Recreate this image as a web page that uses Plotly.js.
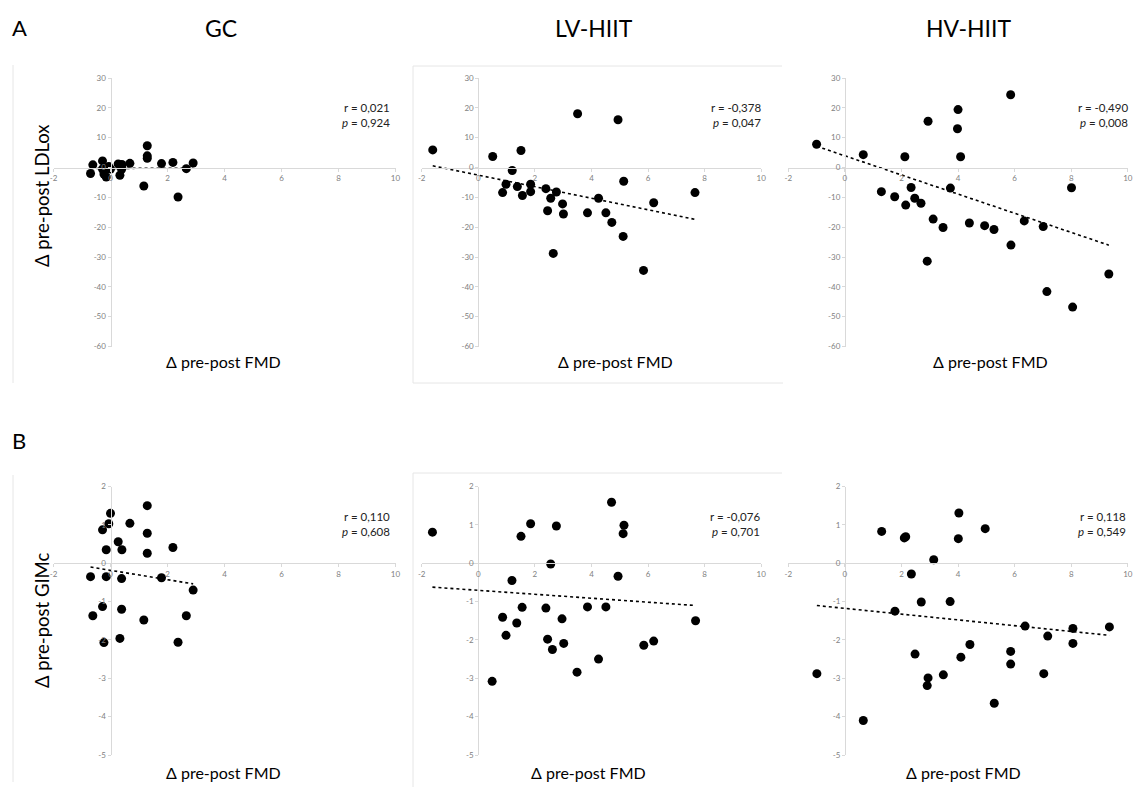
<!DOCTYPE html>
<html>
<head>
<meta charset="utf-8">
<script src="https://cdn.plot.ly/plotly-3.0.1.min.js"></script>
<style>html,body{margin:0;padding:0;background:#fff;}#chart{width:1135px;height:787px;}</style>
</head>
<body>
<div id="chart"></div>
<script>
// ---------- data ----------
const groups = ['GC', 'LV-HIIT', 'HV-HIIT'];
const rowLabels = ['A', 'B'];
const yTitles = ['Δ pre-post LDLox', 'Δ pre-post GIMc'];
const xTitle = 'Δ pre-post FMD';

// Row A: Δ FMD vs Δ LDLox
const fmdA_GC = [-0.7,-0.62,-0.28,-0.28,-0.23,-0.15,-0.15,-0.06,0.0,0.27,0.33,0.39,0.39,0.4,0.68,1.17,1.29,1.29,1.29,1.79,2.19,2.37,2.66,2.9];
const ldlA_GC = [-2.0,0.9,2.2,-0.5,-2.2,-3.2,-0.5,0.3,-0.5,1.2,-2.6,0.6,-0.6,1.0,1.4,-6.2,7.3,3.9,3.1,1.3,1.7,-9.9,-0.4,1.5];

const fmdA_LV = [-1.61,0.51,1.51,1.2,0.98,0.86,1.38,1.56,1.85,1.85,2.39,2.76,2.56,2.45,2.98,3.01,2.65,3.51,3.86,4.25,4.51,4.72,4.94,5.14,5.12,5.84,6.2,7.66];
const ldlA_LV = [5.9,3.7,5.7,-1.0,-5.6,-8.4,-6.4,-9.4,-5.6,-8.1,-7.1,-8.2,-10.3,-14.5,-12.2,-15.6,-28.8,18.0,-15.2,-10.3,-15.2,-18.4,16.0,-4.6,-23.1,-34.5,-11.8,-8.4];

const fmdA_HV = [-1.0,0.65,2.12,2.94,4.0,3.98,4.09,5.86,1.29,1.76,2.15,2.34,2.47,2.69,3.12,3.47,2.91,3.73,4.4,4.94,5.27,5.87,6.34,7.01,8.01,7.14,8.05,9.33];
const ldlA_HV = [7.8,4.3,3.6,15.5,19.4,13.0,3.6,24.4,-8.1,-9.8,-12.6,-6.7,-10.3,-12.0,-17.3,-20.1,-31.4,-6.9,-18.6,-19.5,-20.8,-26.0,-17.9,-19.8,-6.8,-41.6,-46.8,-35.7];

// Row B: Δ FMD vs Δ GIMc
const fmdB_GC = [-0.7,-0.62,-0.28,-0.28,-0.23,-0.15,-0.15,-0.06,0.0,0.27,0.33,0.39,0.39,0.4,0.68,1.17,1.29,1.29,1.29,1.79,2.19,2.37,2.66,2.9];
const gimB_GC = [-0.35,-1.37,0.87,-1.13,-2.07,0.35,-0.35,1.03,1.30,0.56,-1.96,-0.40,-1.2,0.35,1.04,-1.48,1.50,0.78,0.26,-0.38,0.41,-2.06,-1.37,-0.70];

const fmdB_LV = [-1.62,1.51,1.85,2.76,4.71,5.15,5.12,2.56,1.19,4.94,0.86,0.98,1.36,1.55,2.39,2.45,2.62,2.96,3.02,3.49,3.86,4.25,4.51,5.85,6.2,7.68,0.49];
const gimB_LV = [0.81,0.70,1.03,0.97,1.59,0.99,0.77,-0.02,-0.45,-0.34,-1.41,-1.88,-1.56,-1.15,-1.17,-1.98,-2.25,-1.45,-2.09,-2.84,-1.14,-2.50,-1.14,-2.14,-2.03,-1.50,-3.08];

const fmdB_HV = [-0.99,0.65,1.30,2.15,2.10,1.77,2.35,2.48,2.7,2.94,2.91,3.14,3.48,3.72,4.03,4.01,4.1,4.42,4.96,5.28,5.86,5.86,6.37,7.03,7.17,8.06,8.06,9.35];
const gimB_HV = [-2.88,-4.10,0.83,0.69,0.66,-1.25,-0.28,-2.37,-1.01,-2.99,-3.19,0.09,-2.91,-1.0,1.31,0.64,-2.45,-2.12,0.90,-3.65,-2.30,-2.63,-1.64,-2.88,-1.90,-1.70,-2.09,-1.66];

// linear trendlines: [intercept, slope]
const trendA_GC = [-0.3, 0.03];
const trendA_LV = [-2.56, -1.935];
const trendA_HV = [3.92, -3.21];
const trendB_GC = [-0.185, -0.122];
const trendB_LV = [-0.707, -0.0515];
const trendB_HV = [-1.177, -0.0752];

const rValues = ['0,021', '-0,378', '-0,490', '0,110', '-0,076', '0,118'];
const pValues = ['0,924', '0,047', '0,008', '0,608', '0,701', '0,549'];

// tick labels
const xTickVals = [-2, 0, 2, 4, 6, 8, 10];
const yTickValsA = [-60, -50, -40, -30, -20, -10, 0, 10, 20, 30];
const yTickValsB = [-5, -4, -3, -2, -1, 0, 1, 2];

// ---------- layout geometry (pixels) ----------
const W = 1135, H = 787;
const px = x => x / W;
const py = y => 1 - y / H;
const colPx = [[53.5, 395.5], [421.7, 761.2], [788.3, 1127.8]];
const rowPx = [[78, 346.5], [486.5, 755]];
const xTitleCenters = [[223, 615, 990], [223, 588, 963]];
const xTitleY = [361, 772];
const rightEdge = [[392, 763, 1130], [392, 762, 1128]];
const rY = [108, 516], pY = [122, 531];

const panels = [
  {x: fmdA_GC, y: ldlA_GC, t: trendA_GC, row: 0, col: 0},
  {x: fmdA_LV, y: ldlA_LV, t: trendA_LV, row: 0, col: 1},
  {x: fmdA_HV, y: ldlA_HV, t: trendA_HV, row: 0, col: 2},
  {x: fmdB_GC, y: gimB_GC, t: trendB_GC, row: 1, col: 0},
  {x: fmdB_LV, y: gimB_LV, t: trendB_LV, row: 1, col: 1},
  {x: fmdB_HV, y: gimB_HV, t: trendB_HV, row: 1, col: 2}
];

const xRange = [xTickVals[0], xTickVals[xTickVals.length - 1]];
const yTicksByRow = [yTickValsA, yTickValsB];

const FONT = 'Lato, "Open Sans", sans-serif';
const axisGray = '#d9d9d9';
const tickGray = '#7f7f7f';

const traces = [];
const layout = {
  width: W, height: H,
  margin: {l: 0, r: 0, t: 0, b: 0},
  paper_bgcolor: '#ffffff', plot_bgcolor: 'rgba(0,0,0,0)',
  showlegend: false,
  font: {family: FONT, color: '#000'},
  annotations: [],
  shapes: []
};

panels.forEach((p, i) => {
  const k = i + 1;
  const xa = 'x' + (k === 1 ? '' : k), ya = 'y' + (k === 1 ? '' : k);
  const yTicks = yTicksByRow[p.row];
  const yRange = [yTicks[0], yTicks[yTicks.length - 1]];
  const xd = [px(colPx[p.col][0]), px(colPx[p.col][1])];
  const yd = [py(rowPx[p.row][1]), py(rowPx[p.row][0])];
  // axes cross at zero
  const xAxisPos = yd[0] + (0 - yRange[0]) / (yRange[1] - yRange[0]) * (yd[1] - yd[0]);
  const yAxisPos = xd[0] + (0 - xRange[0]) / (xRange[1] - xRange[0]) * (xd[1] - xd[0]);

  layout['xaxis' + (k === 1 ? '' : k)] = {
    domain: xd, range: xRange, anchor: 'free', position: xAxisPos,
    showgrid: false, zeroline: false, showline: true, linecolor: axisGray, linewidth: 1,
    ticks: 'outside', ticklen: 3, tickcolor: axisGray,
    tickvals: xTickVals, ticktext: xTickVals.map(String),
    tickfont: {family: FONT, size: 8, color: tickGray}, fixedrange: true
  };
  layout['yaxis' + (k === 1 ? '' : k)] = {
    domain: yd, range: yRange, anchor: 'free', position: yAxisPos,
    showgrid: false, zeroline: false, showline: true, linecolor: axisGray, linewidth: 1,
    ticks: 'outside', ticklen: 3, tickcolor: axisGray,
    tickvals: yTicks, ticktext: yTicks.map(String),
    tickfont: {family: FONT, size: 8, color: tickGray}, fixedrange: true
  };

  // trendline across the data range
  const xmin = Math.min(...p.x), xmax = Math.max(...p.x);
  traces.push({
    type: 'scatter', mode: 'lines', xaxis: xa, yaxis: ya,
    x: [xmin, xmax], y: [p.t[0] + p.t[1] * xmin, p.t[0] + p.t[1] * xmax],
    line: {color: '#000', width: 1.6, dash: 'dot'}, hoverinfo: 'skip'
  });
  traces.push({
    type: 'scatter', mode: 'markers', xaxis: xa, yaxis: ya,
    x: p.x, y: p.y, cliponaxis: false,
    marker: {color: '#000', size: 9, line: {width: 0}}
  });

  // r / p annotations
  layout.annotations.push({
    xref: 'paper', yref: 'paper', x: px(rightEdge[p.row][p.col]), y: py(rY[p.row]),
    xanchor: 'right', yanchor: 'middle', showarrow: false,
    text: 'r = ' + rValues[i], font: {family: FONT, size: 11.5, color: '#222'}
  });
  layout.annotations.push({
    xref: 'paper', yref: 'paper', x: px(rightEdge[p.row][p.col]), y: py(pY[p.row]),
    xanchor: 'right', yanchor: 'middle', showarrow: false,
    text: '<i>p</i> = ' + pValues[i], font: {family: FONT, size: 11.5, color: '#222'}
  });
  // x-axis title
  layout.annotations.push({
    xref: 'paper', yref: 'paper', x: px(xTitleCenters[p.row][p.col]), y: py(xTitleY[p.row]),
    xanchor: 'center', yanchor: 'middle', showarrow: false,
    text: xTitle, font: {family: FONT, size: 16, color: '#000'}
  });
});

// group headings and row letters
const headX = [221, 594, 968];
groups.forEach((g, j) => layout.annotations.push({
  xref: 'paper', yref: 'paper', x: px(headX[j]), y: py(28), xanchor: 'center', yanchor: 'middle',
  showarrow: false, text: g, font: {family: FONT, size: 23, color: '#000'}
}));
const rowLetterY = [28, 441];
rowLabels.forEach((l, r) => layout.annotations.push({
  xref: 'paper', yref: 'paper', x: px(10), y: py(rowLetterY[r]), xanchor: 'left', yanchor: 'middle',
  showarrow: false, text: l, font: {family: FONT, size: 22, color: '#000'}
}));
// y-axis titles
const yTitleCenters = [196, 621];
yTitles.forEach((t, r) => layout.annotations.push({
  xref: 'paper', yref: 'paper', x: px(42), y: py(yTitleCenters[r]), xanchor: 'center', yanchor: 'middle',
  textangle: -90, showarrow: false, text: t, font: {family: FONT, size: 18.5, color: '#000'}
}));

// faint chart-area borders
const border = '#e6e6e6';
const seg = (x0, y0, x1, y1) => ({type: 'line', xref: 'paper', yref: 'paper',
  x0: px(x0), y0: py(y0), x1: px(x1), y1: py(y1), line: {color: border, width: 1}});
layout.shapes.push(seg(13, 65, 13, 383), seg(13, 475, 13, 782));
layout.shapes.push(seg(413, 66, 413, 383), seg(413, 66, 782, 66), seg(413, 383, 783, 383));
layout.shapes.push(seg(413, 473, 413, 787), seg(413, 473, 782, 473));

Plotly.newPlot('chart', traces, layout, {staticPlot: true, displayModeBar: false});
</script>
</body>
</html>
